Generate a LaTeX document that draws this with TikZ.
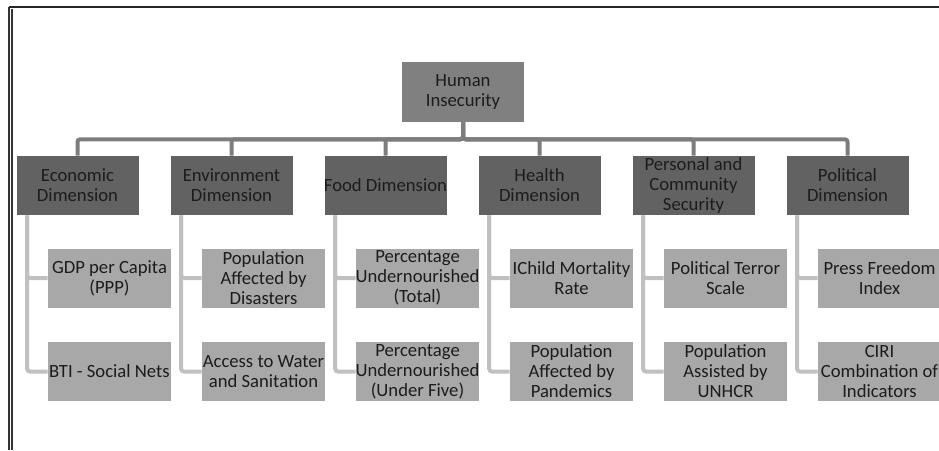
\documentclass[tikz,border=0pt]{standalone}
\usepackage{fontspec}
\setmainfont{Carlito}
\usetikzlibrary{positioning}

\definecolor{rootgray}{RGB}{128,128,128}
\definecolor{dimgray}{RGB}{98,98,98}
\definecolor{leafgray}{RGB}{168,168,168}
\definecolor{busgray}{RGB}{125,125,125}
\definecolor{twiggray}{RGB}{192,192,192}
\definecolor{inkgray}{RGB}{28,28,28}

% zero-width line, so a long word overflows both sides of its box
\newcommand{\ovr}[1]{\makebox[0pt]{#1}}

\tikzset{
  boxtext/.style={inner sep=0pt, align=center, text=inkgray, font=\fontsize{14}{15}\selectfont},
  rootbox/.style={boxtext, fill=rootgray, minimum width=91.5pt, minimum height=45pt},
  dimbox/.style={boxtext, fill=dimgray, minimum width=91.5pt, minimum height=44.25pt},
  leafbox/.style={boxtext, fill=leafgray, minimum width=92.25pt, minimum height=44.25pt},
  bus/.style={draw=busgray, line width=3pt, rounded corners=2pt},
  twig/.style={draw=twiggray, line width=3pt, rounded corners=2pt},
}

\begin{document}
\begin{tikzpicture}[x=0.75pt,y=0.75pt,yscale=-1,xscale=1]
\useasboundingbox (0,0) rectangle (939,450);

%Frame
\draw [line width=1.2, color=black!85] (9,7) -- (939,7) ;
\draw [line width=0.8, color=black!80] (9,7) -- (9,450) ;
\draw [line width=0.8, color=black!80] (12,9) -- (12,450) ;

%Root
\node [rootbox] (root) at (463,92) {Human\\Insecurity};

%Dimensions
\node [dimbox] (econ) at (77.5,185.5) {Economic\\Dimension};
\node [dimbox] (envi) at (231.5,185.5) {Environment\\Dimension};
\node [dimbox] (food) at (385.5,185.5) {\ovr{Food Dimension}};
\node [dimbox] (heal) at (539.5,185.5) {Health\\Dimension};
\node [dimbox] (pers) at (693.5,185.5) {\ovr{Personal and}\\Community\\Security};
\node [dimbox] (poli) at (847.5,185.5) {Political\\Dimension};

%Indicators, first row
\node [leafbox] (gdp) at (109.5,278) {\ovr{GDP per Capita}\\(PPP)};
\node [leafbox] (disa) at (263.5,278) {Population\\Affected by\\Disasters};
\node [leafbox] (totl) at (417.5,278) {Percentage\\\ovr{Undernourished}\\(Total)};
\node [leafbox] (chld) at (571.5,278) {\ovr{IChild Mortality}\\Rate};
\node [leafbox] (terr) at (725.5,278) {Political Terror\\Scale};
\node [leafbox] (pres) at (879.5,278) {\ovr{Press Freedom}\\Index};

%Indicators, second row
\node [leafbox] (bti) at (109.5,371.5) {\ovr{BTI - Social Nets}};
\node [leafbox] (watr) at (263.5,371.5) {\ovr{Access to Water}\\and Sanitation};
\node [leafbox] (five) at (417.5,371.5) {Percentage\\\ovr{Undernourished}\\(Under Five)};
\node [leafbox] (pand) at (571.5,371.5) {Population\\Affected by\\Pandemics};
\node [leafbox] (unhc) at (725.5,371.5) {Population\\Assisted by\\UNHCR};
\node [leafbox] (ciri) at (879.5,371.5) {CIRI\\\ovr{Combination of}\\Indicators};

%Bus to dimensions
\draw [bus] (root.south) -- ++(0,17) -| (econ.north) ;
\draw [bus] (root.south) -- ++(0,17) -| (envi.north) ;
\draw [bus] (root.south) -- ++(0,17) -| (food.north) ;
\draw [bus] (root.south) -- ++(0,17) -| (heal.north) ;
\draw [bus] (root.south) -- ++(0,17) -| (pers.north) ;
\draw [bus] (root.south) -- ++(0,17) -| (poli.north) ;

%Twigs to indicators
\draw [twig] ([xshift=8.25pt]econ.south west) |- (gdp.west) ;
\draw [twig] ([xshift=8.25pt]econ.south west) |- (bti.west) ;
\draw [twig] ([xshift=8.25pt]envi.south west) |- (disa.west) ;
\draw [twig] ([xshift=8.25pt]envi.south west) |- (watr.west) ;
\draw [twig] ([xshift=8.25pt]food.south west) |- (totl.west) ;
\draw [twig] ([xshift=8.25pt]food.south west) |- (five.west) ;
\draw [twig] ([xshift=8.25pt]heal.south west) |- (chld.west) ;
\draw [twig] ([xshift=8.25pt]heal.south west) |- (pand.west) ;
\draw [twig] ([xshift=8.25pt]pers.south west) |- (terr.west) ;
\draw [twig] ([xshift=8.25pt]pers.south west) |- (unhc.west) ;
\draw [twig] ([xshift=8.25pt]poli.south west) |- (pres.west) ;
\draw [twig] ([xshift=8.25pt]poli.south west) |- (ciri.west) ;

\end{tikzpicture}
\end{document}
